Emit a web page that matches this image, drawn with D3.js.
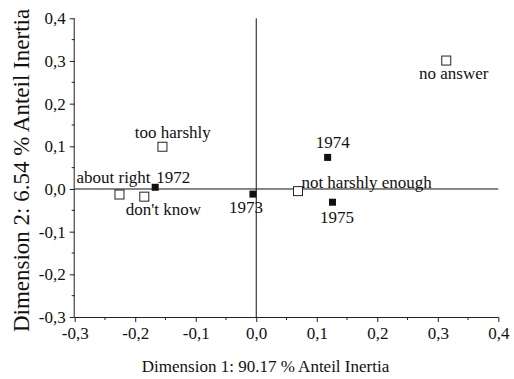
<!DOCTYPE html>
<html>
<head>
<meta charset="utf-8">
<script src="https://cdn.jsdelivr.net/npm/d3@7"></script>
<style>
  html, body { margin: 0; padding: 0; background: #fff; }
  svg { display: block; }
</style>
</head>
<body>
<svg id="chart" width="514" height="379"></svg>
<script>
// Correspondence analysis: row and column coordinates
const labels = ["no answer", "1974", "not harshly enough", "1975", "1973", "1972", "about right", "don't know", "too harshly"];
const dim1 = [0.314, 0.118, 0.069, 0.126, -0.0055, -0.167, -0.226, -0.185, -0.155];
const dim2 = [0.301, 0.074, -0.005, -0.031, -0.012, 0.004, -0.013, -0.018, 0.099];
// true = year (filled), false = response category (open)
const isYear = [false, true, false, true, true, true, false, false, false];

const xTicks = [-0.3, -0.2, -0.1, 0.0, 0.1, 0.2, 0.3, 0.4];
const yTicks = [-0.3, -0.2, -0.1, 0.0, 0.1, 0.2, 0.3, 0.4];
const xTitle = "Dimension 1: 90.17 % Anteil Inertia";
const yTitle = "Dimension 2: 6.54 % Anteil Inertia";

// label placement relative to the marker: [dx, dy, anchor]
const labelPlacement = [
  [7.5, 18, "middle"],
  [5, -9, "middle"],
  [3.4, -3, "start"],
  [4.5, 20.4, "middle"],
  [-7, 18.5, "middle"],
  [1, -4, "start"],
  [-43, -11.2, "start"],
  [-18.6, 18.3, "start"],
  [10.3, -9.1, "middle"]
];

const FONT = "Liberation Serif, Times New Roman, serif";
const INK = "#111";

const svg = d3.select("#chart");
const x = d3.scaleLinear().domain([-0.3, 0.4]).range([74.7, 498.3]);
const y = d3.scaleLinear().domain([-0.3, 0.4]).range([317, 18.3]);
const fmt = v => d3.format(".1f")(v).replace(".", ",").replace("\u2212", "-");

// minor tick positions (outward, short)
const xMinor = d3.range(-0.25, 0.4, 0.1);
const yMinor = d3.range(-0.25, 0.4, 0.1);

const xAxis = d3.axisBottom(x).tickValues(xTicks).tickFormat(fmt).tickSize(5).tickPadding(5);
const yAxis = d3.axisLeft(y).tickValues(yTicks).tickFormat(fmt).tickSize(5).tickPadding(4);

const gx = svg.append("g").attr("transform", `translate(0,${y(-0.3)})`).call(xAxis);
const gy = svg.append("g").attr("transform", `translate(${x(-0.3)},0)`).call(yAxis);
[gx, gy].forEach(g => {
  g.attr("font-family", FONT).attr("font-size", 17);
  g.select(".domain").attr("stroke", "#222").attr("stroke-width", 1);
  g.selectAll(".tick line").attr("stroke", "#222");
  g.selectAll(".tick text").attr("fill", INK)
    .attr("font-family", FONT).attr("font-size", 17);
});
// axis baselines without outer end ticks
gx.select(".domain").attr("d", `M${x(-0.3)},0.5H${x(0.4)}`);
gy.select(".domain").attr("d", `M-0.5,${y(-0.3)}V${y(0.4)}`);

svg.append("g").selectAll("line").data(xMinor).join("line")
  .attr("x1", d => x(d)).attr("x2", d => x(d))
  .attr("y1", y(-0.3)).attr("y2", y(-0.3) + 3)
  .attr("stroke", "#222");
svg.append("g").selectAll("line").data(yMinor).join("line")
  .attr("x1", x(-0.3) - 3).attr("x2", x(-0.3))
  .attr("y1", d => y(d)).attr("y2", d => y(d))
  .attr("stroke", "#222");

// reference lines through the origin
svg.append("line")
  .attr("x1", x(-0.3)).attr("x2", x(0.4))
  .attr("y1", y(0)).attr("y2", y(0))
  .attr("stroke", INK).attr("stroke-width", 1);
svg.append("line")
  .attr("x1", x(0)).attr("x2", x(0))
  .attr("y1", y(0.4)).attr("y2", y(-0.3))
  .attr("stroke", INK).attr("stroke-width", 1);

// axis titles
svg.append("text")
  .attr("x", 265.5).attr("y", 371.5)
  .attr("text-anchor", "middle")
  .attr("font-family", FONT).attr("font-size", 17).attr("fill", INK)
  .text(xTitle);
svg.append("text")
  .attr("transform", "translate(28.5,170.5) rotate(-90)")
  .attr("text-anchor", "middle")
  .attr("font-family", FONT).attr("font-size", 23).attr("fill", INK)
  .text(yTitle);

// markers
const pts = labels.map((l, i) => ({ label: l, x: dim1[i], y: dim2[i], year: isYear[i], place: labelPlacement[i] }));
svg.append("g").selectAll("rect").data(pts).join("rect")
  .attr("x", d => x(d.x) - (d.year ? 3.5 : 4.5))
  .attr("y", d => y(d.y) - (d.year ? 3.5 : 4.5))
  .attr("width", d => d.year ? 7 : 9)
  .attr("height", d => d.year ? 7 : 9)
  .attr("fill", d => d.year ? INK : "#fff")
  .attr("stroke", d => d.year ? "none" : "#222")
  .attr("stroke-width", 1);

svg.append("g").selectAll("text").data(pts).join("text")
  .attr("x", d => x(d.x) + d.place[0])
  .attr("y", d => y(d.y) + d.place[1])
  .attr("text-anchor", d => d.place[2])
  .attr("font-family", FONT).attr("font-size", 17).attr("fill", INK)
  .text(d => d.label);
</script>
</body>
</html>
